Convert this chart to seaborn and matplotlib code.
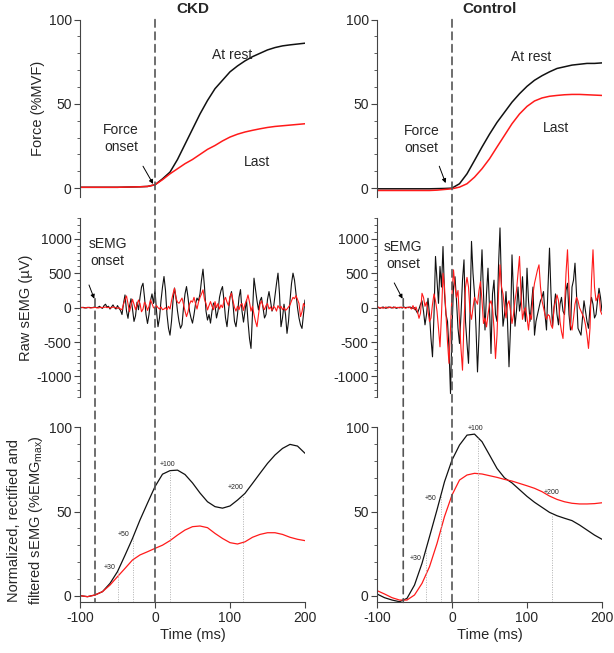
import numpy as np
import matplotlib
matplotlib.use('Agg')
import matplotlib.pyplot as plt
from matplotlib.patches import ConnectionPatch
from matplotlib.ticker import MultipleLocator
import seaborn as sns

sns.set_style('ticks')
plt.rcParams['font.family'] = ['Liberation Sans', 'DejaVu Sans']
plt.rcParams['axes.unicode_minus'] = False

# time bases (ms)
t_smooth = list(range(-100, 201, 10))
t_raw = list(range(-100, 201, 2))

# force (%MVF), every 10 ms
force_ckd_rest = [0.5, 0.5, 0.5, 0.5, 0.5, 0.5, 0.6, 0.7, 0.8, 1.0,
                  2, 5.5, 9.5, 17, 26, 35, 44, 52, 59, 64, 69, 72.5, 75.5, 78, 80, 82, 83.4, 84.4, 85, 85.5, 86]
force_ckd_last = [0.5, 0.5, 0.5, 0.5, 0.5, 0.5, 0.6, 0.7, 0.8, 1.0,
                  2, 5, 8.5, 11.5, 14.5, 17, 20, 23, 25.3, 28, 30.3, 32, 33.3, 34.3, 35.2, 36, 36.6, 37, 37.4, 37.8, 38.2]
force_ctrl_rest = [-0.4, -0.4, -0.4, -0.4, -0.4, -0.4, -0.4, -0.4, -0.3, -0.2,
                   0, 2.6, 8.5, 16.4, 24.4, 32, 39, 45, 51, 56, 60.4, 64, 66.7, 69, 71, 72, 73, 73.5, 74, 74, 74.3]
force_ctrl_last = [-1.4, -1.4, -1.4, -1.4, -1.4, -1.4, -1.4, -1.4, -1.2, -0.8,
                   -0.4, 0.6, 2.6, 6.5, 11.5, 17.4, 24.4, 31.3, 38.2, 44, 48.5, 51.7, 53.5, 54.5, 55, 55.4, 55.6, 55.6, 55.4, 55.2, 55]

# raw sEMG (uV), every 2 ms
raw_ckd_rest = [0, 0, 5, 0, -5, 0, 5, 0, 0, 5, 10, 0, 5, 20, 0,
                -10, 30, 50, 10, 20, -20, 10, 40, 0, -20, 30, -10, -40, -100, 60,
                185, -50, -155, 20, 130, -20, -200, -120, 80, -30, 150, 300, 355, 150, -100,
                -230, -100, 100, 200, 60, 258, -50, -277, -150, 100, 300, 453, 250, -100, -300,
                -400, -200, 100, 285, 150, -50, -200, -300, -250, 0, 200, 307, 150, -50, -150,
                -225, -100, 50, 140, 100, 200, 400, 560, 300, -50, -180, -100, -225, -50, 68,
                30, -150, -50, 150, 250, 307, 100, -150, -277, -50, 150, 234, 50, -200, -277,
                -100, 150, 263, -50, -210, -50, 112, -200, -450, -593, -100, 429, 260, 100, -33,
                100, 150, 0, -150, -100, 120, 234, 100, -50, 0, 180, 350, 502, 200, -277,
                -150, 50, -100, -374, -200, 100, 350, 502, 400, 200, 0, -150, -250, -302, -100,
                112]
raw_ckd_last = [0, 5, 0, -5, 0, 5, 0, -5, 0, 0, 5, 0, -5, 0, 5,
                0, 5, 10, 0, 5, -5, 0, 10, 5, 0, -10, 0, -20, -30, 50,
                120, 170, 60, -58, 30, 122, 50, -30, 40, 112, 60, -60, -20, 80, 40,
                -40, 20, 113, 60, 0, -9, 30, 0, -20, 10, -30, -20, 0, -30, 20,
                -20, 100, 200, 283, 137, 80, 64, 100, 140, 50, -50, -130, -60, 50, 100,
                80, 150, 60, -20, 80, 150, 200, 259, 120, 60, -33, 30, 88, 20, -30,
                88, 0, 60, -20, 40, 0, 100, 150, 80, 30, 160, 210, 100, 0, -50,
                20, -30, 40, 60, -40, 50, 100, 185, 80, -50, 20, -100, -200, -277, -100,
                50, 100, 20, -30, 30, 60, -20, 10, -40, 20, 0, -50, 30, -10, 20,
                -30, 0, -40, -20, 10, 40, 100, 150, 130, 175, 120, 60, -130, -60, 60,
                20]
raw_ctrl_rest = [10, 0, -10, 0, 10, 0, -10, 5, 10, 0, -5, 10, 0, -10, 0,
                 5, 0, -5, 10, 0, 5, 0, 10, 0, -10, 0, -40, -80, -20, 50,
                 100, -50, -250, -100, 137, -100, -450, -715, -100, 745, 400, 63, 600, 300, 890,
                 200, -100, -200, -600, -1250, -300, 300, 450, 100, -300, -521, -100, 400, 696, -200,
                 -520, -810, -100, 964, 500, 200, -300, -935, -400, 300, 842, 200, -325, 200, 574,
                 0, -667, 200, 400, -100, -200, 600, 1160, 300, -270, -100, 234, -200, -860, -300,
                 768, 200, -270, -50, 300, -50, 100, 450, 0, -200, 574, 100, -200, 50, 300,
                 -400, -200, -100, 0, 100, 150, 234, -100, -325, 300, 866, 200, -277, 0, 200,
                 -100, -250, 50, 150, -50, -100, 250, 355, -100, -325, 300, 400, 647, 200, -300,
                 -350, -400, -150, 100, -50, -200, -300, 0, 150, 50, -150, -100, 100, 282, 150,
                 -50]
raw_ctrl_last = [-5, 10, -10, 5, -10, 0, 10, -5, 0, 10, 0, -5, 10, 0, 5,
                 -5, 10, 0, 5, -10, 0, 10, 0, -20, 30, -30, 10, -60, -155, -80,
                 209, 150, 20, 80, -50, -200, -150, 50, 200, 100, -50, -300, -570, -100, 500,
                 300, -100, -500, -810, -300, 200, 550, 300, 150, 250, -200, -600, -910, -200, 300,
                 440, 300, -50, -170, 0, 150, 100, 50, 250, 380, 100, -230, -150, -280, -100,
                 50, 100, 0, -300, -740, -400, 200, 623, 300, 200, 0, -150, 50, 100, -50,
                 -230, -100, 100, 250, 500, 745, 200, -170, -50, 0, -150, -325, -100, -170, 200,
                 355, 450, 550, 623, 300, 100, 0, -100, -170, -100, -120, -250, -300, 0, 100,
                 185, 100, -200, -350, -448, 0, 500, 842, 300, -250, -325, -150, 50, 150, 100,
                 0, -50, -100, -150, -250, -400, -593, -300, 400, 842, 300, 100, 150, 200, -50,
                 -100]

# normalized, rectified, filtered sEMG (%EMGmax), every 10 ms
norm_ckd_rest = [0, -0.6, 0.4, 2.4, 7.3, 14.3, 24, 34, 45, 55, 64.8, 72.2, 74.3, 74.6, 72, 67,
                 61, 55.8, 52.9, 52, 53.3, 56.8, 60.8, 66.7, 72.7, 78.6, 83.6, 87.5, 89.9, 88.9, 84.6]
norm_ckd_last = [0, -0.6, 0.4, 2.4, 6.3, 11.3, 16.2, 21.2, 24.2, 26.1, 28.1, 30, 32.7, 36, 39, 41,
                 41.4, 40.4, 37, 34, 31.5, 30.7, 32, 34.7, 36.4, 37.4, 37.4, 36.4, 34.7, 33.5, 32.7]
norm_ctrl_rest = [1, -1.2, -2.6, -3.6, -1.6, 6.3, 19.2, 35, 51, 67.7, 80.6, 89.5, 95.4, 96, 91.5, 83.6,
                  75.6, 70, 67, 63, 59, 55.5, 52.5, 49.5, 47.5, 46, 44.6, 42, 39, 36, 33.5]
norm_ctrl_last = [3, 1, -1.2, -2.6, -2.6, 0.4, 7.3, 17.2, 31, 47, 59.8, 68.7, 71.7, 72.7, 72.3, 71.3,
                  70.3, 69.1, 68.1, 66.7, 65.3, 63.8, 61.8, 59.2, 57.2, 55.8, 54.9, 54.5, 54.5, 54.7, 55.2]

# onsets and time-window markers (+30, +50, +100, +200 ms after sEMG onset)
onset_ckd, onset_ctrl = -80, -65
win_labels = ['+30', '+50', '+100', '+200']
win_t_ckd = [-50, -30, 20, 117]
win_h_ckd = [14.3, 34, 73.8, 59.5]
win_txt_ckd = [(-60, 16.6), (-42, 36.4), (17, 78), (107, 64.4)]
win_t_ctrl = [-35, -15, 35, 133]
win_h_ctrl = [27, 59.4, 94, 48.8]
win_txt_ctrl = [(-49, 22), (-28, 58), (32, 99.5), (133, 61.5)]

fig = plt.figure(figsize=(6.14, 6.53), dpi=100)
lefts = [80 / 614, 377 / 614]
w = 225 / 614
rows = [(0.699, 0.271), (0.392, 0.2737), (0.0775, 0.268)]
axes = [[fig.add_axes([l, b, w, h]) for (b, h) in rows] for l in lefts]

BLACK, RED, DASH = '#111111', '#ff1a1a', '#555555'
spine_c = '#444444'

groups = [
    dict(title='CKD', f=(force_ckd_rest, force_ckd_last), r=(raw_ckd_rest, raw_ckd_last),
         n=(norm_ckd_rest, norm_ckd_last), onset=onset_ckd, wt=win_t_ckd, wh=win_h_ckd, wx=win_txt_ckd,
         rest=(103, 79), last=(136, 15.4), fon=(-45, 29.6), farr=((-16, 13), (-2.5, 2.5)),
         son=(-63, 800), sarr=((-88, 330), (-81, 130))),
    dict(title='Control', f=(force_ctrl_rest, force_ctrl_last), r=(raw_ctrl_rest, raw_ctrl_last),
         n=(norm_ctrl_rest, norm_ctrl_last), onset=onset_ctrl, wt=win_t_ctrl, wh=win_h_ctrl, wx=win_txt_ctrl,
         rest=(106, 77.8), last=(139, 35.4), fon=(-41, 29), farr=((-17, 13), (-8.5, 3)),
         son=(-65, 755), sarr=((-77, 360), (-66, 130))),
]

arrow_kw = dict(arrowstyle='-|>', color='k', lw=0.7, mutation_scale=6, shrinkA=0, shrinkB=0)

for col, g in enumerate(groups):
    ax_f, ax_r, ax_n = axes[col]

    sns.lineplot(x=t_smooth, y=g['f'][0], ax=ax_f, color=BLACK, lw=1.1)
    sns.lineplot(x=t_smooth, y=g['f'][1], ax=ax_f, color=RED, lw=1.1)
    sns.lineplot(x=t_raw, y=g['r'][0], ax=ax_r, color=BLACK, lw=0.8)
    sns.lineplot(x=t_raw, y=g['r'][1], ax=ax_r, color=RED, lw=0.8)
    sns.lineplot(x=t_smooth, y=g['n'][0], ax=ax_n, color=BLACK, lw=0.9)
    sns.lineplot(x=t_smooth, y=g['n'][1], ax=ax_n, color=RED, lw=0.9)

    ax_f.set_ylim(-5, 100)
    ax_r.set_ylim(-1300, 1300)
    ax_n.set_ylim(-4, 100)
    ax_f.yaxis.set_major_locator(MultipleLocator(50))
    ax_f.yaxis.set_minor_locator(MultipleLocator(10))
    ax_r.yaxis.set_major_locator(MultipleLocator(500))
    ax_r.yaxis.set_minor_locator(MultipleLocator(100))
    ax_n.yaxis.set_major_locator(MultipleLocator(50))
    ax_n.yaxis.set_minor_locator(MultipleLocator(10))
    ax_n.set_xticks([-100, 0, 100, 200])
    ax_n.set_xlabel('Time (ms)', fontsize=10.5, labelpad=2)

    for ax in (ax_f, ax_r, ax_n):
        ax.set_xlim(-100, 200)
        ax.set_ylabel('')
        sns.despine(ax=ax)
        for s in ('left', 'bottom'):
            ax.spines[s].set_color(spine_c)
            ax.spines[s].set_linewidth(0.8)
        ax.tick_params(axis='both', which='major', labelsize=10, length=4, width=0.8,
                       color=spine_c, pad=2)
        ax.tick_params(axis='y', which='minor', length=2, width=0.6, color=spine_c)
        ax.set_facecolor('none')
    for ax in (ax_f, ax_r):
        ax.spines['bottom'].set_visible(False)
        ax.set_xticks([])
        ax.set_xlabel('')

    ax_f.set_title(g['title'], fontsize=11, fontweight='bold', pad=5)

    # force annotations
    ax_f.text(*g['rest'], 'At rest', fontsize=10, ha='center', va='center')
    ax_f.text(*g['last'], 'Last', fontsize=10, ha='center', va='center')
    ax_f.text(*g['fon'], 'Force\nonset', fontsize=10, ha='center', va='center', linespacing=1.3)
    ax_f.annotate('', xy=g['farr'][1], xytext=g['farr'][0], arrowprops=arrow_kw)
    ax_r.text(*g['son'], 'sEMG\nonset', fontsize=10, ha='center', va='center', linespacing=1.3)
    ax_r.annotate('', xy=g['sarr'][1], xytext=g['sarr'][0], arrowprops=arrow_kw)

    # window markers
    ax_n.vlines(g['wt'], -4, g['wh'], colors='#b0b0b0', linestyles=(0, (1, 1.5)), lw=0.7)
    for lab, (tx, ty) in zip(win_labels, g['wx']):
        ax_n.text(tx, ty, lab, fontsize=5, ha='center', va='center')

    # dashed onset lines spanning panels
    dash = dict(color=DASH, lw=1.2, linestyle=(0, (4.5, 3)))
    fig.add_artist(ConnectionPatch(xyA=(0, 100), coordsA='data', axesA=ax_f,
                                   xyB=(0, -4), coordsB='data', axesB=ax_n, **dash))
    fig.add_artist(ConnectionPatch(xyA=(g['onset'], 130), coordsA='data', axesA=ax_r,
                                   xyB=(g['onset'], -4), coordsB='data', axesB=ax_n, **dash))

axes[0][0].set_ylabel('Force (%MVF)', fontsize=10.5)
axes[0][0].yaxis.set_label_coords(-0.155, 0.5)
axes[0][1].set_ylabel('Raw sEMG (\u00b5V)', fontsize=10.5)
axes[0][1].yaxis.set_label_coords(-0.21, 0.5)
axes[0][2].set_ylabel('Normalized, rectified and\nfiltered sEMG (%EMG$_{\\mathregular{max}}$)',
                      fontsize=10.5, linespacing=1.45)
axes[0][2].yaxis.set_label_coords(-0.155, 0.47)

fig.savefig('out.png', dpi=100)
